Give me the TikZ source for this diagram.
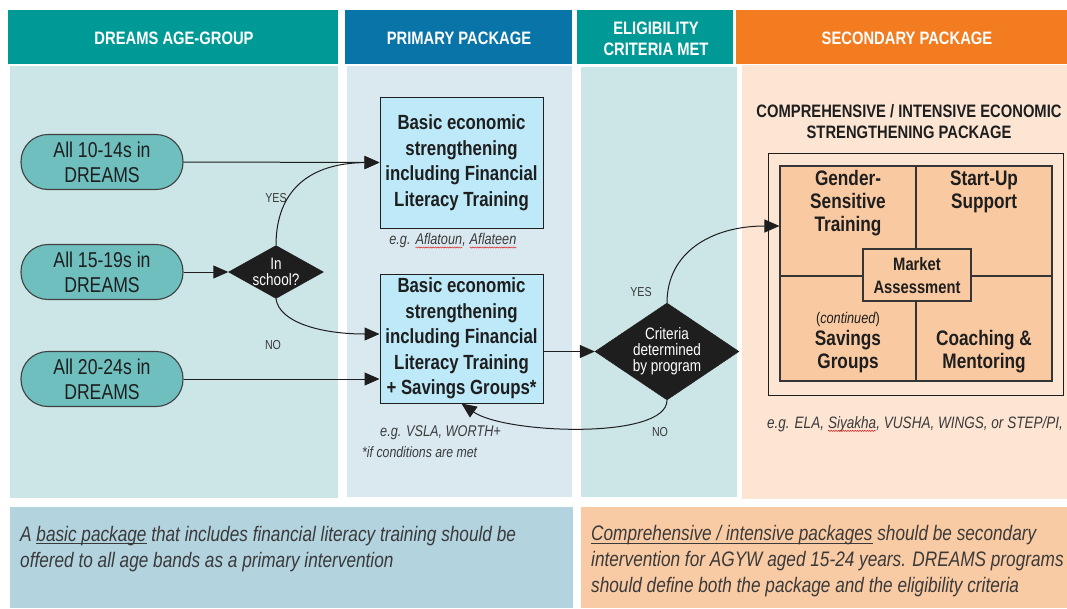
\documentclass[tikz,border=0pt]{standalone}
\usepackage{fontspec}
\setmainfont[FakeStretch=0.82]{Liberation Sans}
\usetikzlibrary{shapes.geometric,arrows.meta,calc,decorations.pathmorphing}
\definecolor{hteal}{HTML}{009A96}
\definecolor{hblue}{HTML}{0874A8}
\definecolor{horange}{HTML}{F37B20}
\definecolor{bteal}{HTML}{CCE5E6}
\definecolor{bblue}{HTML}{DAE9F0}
\definecolor{bpeach}{HTML}{FDE5D4}
\definecolor{pillc}{HTML}{70BFBF}
\definecolor{boxblue}{HTML}{BDE9F9}
\definecolor{peach}{HTML}{F9CAA2}
\definecolor{botblue}{HTML}{B3D3DF}
\definecolor{botpeach}{HTML}{F9CBA5}
\definecolor{ink}{HTML}{1E1E1E}
\definecolor{grayink}{HTML}{3A3A3A}
\definecolor{wavered}{HTML}{E02020}
\newcommand\redwave[1]{\tikz[baseline=(w.base)]{\node[inner sep=0pt,outer sep=0pt,anchor=base west,draw=none,fill=none,shape=rectangle] (w) {#1};
  \draw[wavered,line width=0.5pt,decorate,decoration={snake,amplitude=0.6pt,segment length=2.4pt}] ([yshift=-2.6pt]w.base west) -- ([yshift=-2.6pt]w.base east);}}
\newcommand\ulin[1]{\setbox0\hbox{#1}\rlap{\rule[-2.6pt]{\wd0}{0.9pt}}#1}
\begin{document}
\begin{tikzpicture}[x=1pt,y=-1pt,
  hdr/.style={text=white,font=\bfseries\fontsize{18}{21}\selectfont,align=center,inner sep=0},
  pill/.style={draw=ink!85,line width=1.1pt,fill=pillc,rounded corners=27pt,minimum width=162pt,minimum height=55pt,align=center,text=ink,font=\fontsize{21.5}{25}\selectfont,inner sep=0},
  pbox/.style={draw=ink,line width=1pt,fill=boxblue,minimum width=163pt,align=center,text=ink,font=\bfseries\fontsize{20.5}{25.5}\selectfont,inner sep=0},
  diam/.style={shape=diamond,fill=ink,draw=ink,inner sep=0},
  dtext/.style={text=white,align=center,font=\fontsize{16.5}{16}\selectfont,inner sep=0},
  cell/.style={draw=ink!90,line width=1.1pt,fill=peach,inner sep=0},
  ctext/.style={text=ink,align=center,font=\bfseries\fontsize{21}{23}\selectfont,inner sep=0},
  lab/.style={text=grayink,font=\fontsize{13}{15}\selectfont,inner sep=0},
  note/.style={text=grayink,font=\itshape\fontsize{15.5}{18}\selectfont,inner sep=0},
  btext/.style={text=grayink,font=\itshape\fontsize{21}{26}\selectfont,align=left,inner sep=0},
  conn/.style={draw=ink,line width=1pt,-{Triangle[length=15pt,width=13pt]}}]
\useasboundingbox (0,0) rectangle (1067,608);
\fill[white] (0,0) rectangle (1067,608);
% body panels
\fill[bteal] (10,66) rectangle (338,498);
\fill[bblue] (347,66) rectangle (572,497);
\fill[bteal] (581,67) rectangle (737,497);
\fill[bpeach] (742,65) rectangle (1067,499);
% headers
\fill[hteal] (8,10) rectangle (338,64);
\fill[hblue] (345,10) rectangle (572,64);
\fill[hteal] (577,10) rectangle (733,64);
\fill[horange] (736,10) rectangle (1067,64);
\node[hdr] (h1) at (174,38) {DREAMS AGE-GROUP};
\node[hdr] (h2) at (459,38) {PRIMARY PACKAGE};
\node[hdr] (h3) at (656,38.5) {ELIGIBILITY\\CRITERIA MET};
\node[hdr] (h4) at (907,38) {SECONDARY PACKAGE};
% bottom panels
\fill[botblue] (10,507) rectangle (573,608);
\fill[botpeach] (581,507) rectangle (1067,608);
\node[btext,anchor=west] (bl) at (20,549) {A \ulin{basic package} that includes financial literacy training should be\\offered to all age bands as a primary intervention};
\node[btext,anchor=west] (br) at (591,561.5) {\ulin{Comprehensive / intensive packages} should be secondary\\intervention for AGYW aged 15-24 years. DREAMS programs\\should define both the package and the eligibility criteria};
% pills
\node[pill] (p1) at (102,162) {All 10-14s in\\DREAMS};
\node[pill] (p2) at (102,272) {All 15-19s in\\DREAMS};
\node[pill] (p3) at (102,379) {All 20-24s in\\DREAMS};
% in school diamond
\node[diam,minimum width=95pt,minimum height=53pt] (ins) at (276,272) {};
\node[dtext] (inst) at (ins) {In\\school?};
% primary boxes
\node[pbox,minimum height=131pt] (b1) at (461.5,162.5) {Basic economic\\strengthening\\including Financial\\Literacy Training};
\node[pbox,minimum height=129pt] (b2) at (461.5,338.5) {Basic economic\\strengthening\\including Financial\\Literacy Training\\+ Savings Groups*};
\node[note] (n1) at (453,241) {e.g. \redwave{Aflatoun}, \redwave{Aflateen}};
\node[note,anchor=west] (n2) at (380,433) {e.g. VSLA, WORTH+};
\node[note,anchor=west,font=\itshape\fontsize{15}{18}\selectfont] (n3) at (362,452) {*if conditions are met};
% criteria diamond
\node[diam,minimum width=144pt,minimum height=97pt] (crit) at (667,351.5) {};
\node[dtext] (critt) at (crit) {Criteria\\determined\\by program};
% secondary package
\node[text=ink,font=\bfseries\fontsize{18}{21}\selectfont,align=center,inner sep=0] (st) at (909,121.5) {COMPREHENSIVE / INTENSIVE ECONOMIC\\STRENGTHENING PACKAGE};
\node[draw=ink,line width=1pt,minimum width=295pt,minimum height=242pt,inner sep=0] (outer) at (915.5,274) {};
\node[cell,minimum width=136pt,minimum height=110pt] (gs) at (848,221) {};
\node[cell,minimum width=136pt,minimum height=110pt] (su) at (984,221) {};
\node[cell,minimum width=136pt,minimum height=105pt] (sg) at (848,328.5) {};
\node[cell,minimum width=136pt,minimum height=105pt] (cm) at (984,328.5) {};
\node[cell,minimum width=108pt,minimum height=52pt] (ma) at (917,275) {};
\node[ctext] (gst) at (848,203.5) {Gender-\\Sensitive\\Training};
\node[ctext] (sut) at (984,192) {Start-Up\\Support};
\node[ctext,font=\bfseries\fontsize{18}{23}\selectfont] (mat) at (917,275.5) {Market\\Assessment};
\node[text=ink,font=\fontsize{15.5}{18}\selectfont,inner sep=0] (cont) at (848,319) {(\textit{continued})};
\node[ctext] (sgt) at (848,352) {Savings\\Groups};
\node[ctext] (cmt) at (984,352) {Coaching \&\\Mentoring};
\node[note,font=\itshape\fontsize{16.5}{18}\selectfont] (n4) at (915,424) {e.g. ELA, \redwave{Siyakha}, VUSHA, WINGS, or STEP/PI,};
% connectors
\draw[conn] (p1.east) -- (b1.west);
\draw[conn] (p2.east) -- (ins.west);
\draw[conn] (p3.east) -- (p3.east -| b2.west);
\draw[conn] (ins.north) .. controls (276,190) and (310,163) .. (b1.west);
\draw[conn] (ins.south) .. controls (279,322) and (320,334) .. ($(b2.west)+(0,-4.5)$);
\draw[conn] (b2.east |- crit.west) -- (crit.west);
\draw[conn] (crit.north) .. controls (667,252) and (712,226) .. ($(gs.west)+(0,5)$);
\draw[conn] (crit.south) .. controls (667,440) and (505,434) .. (b2.south);
\node[lab] (yes1) at (276,198) {YES};
\node[lab] (no1) at (273,345) {NO};
\node[lab] (yes2) at (641,292) {YES};
\node[lab] (no2) at (660,432) {NO};
\end{tikzpicture}
\end{document}
